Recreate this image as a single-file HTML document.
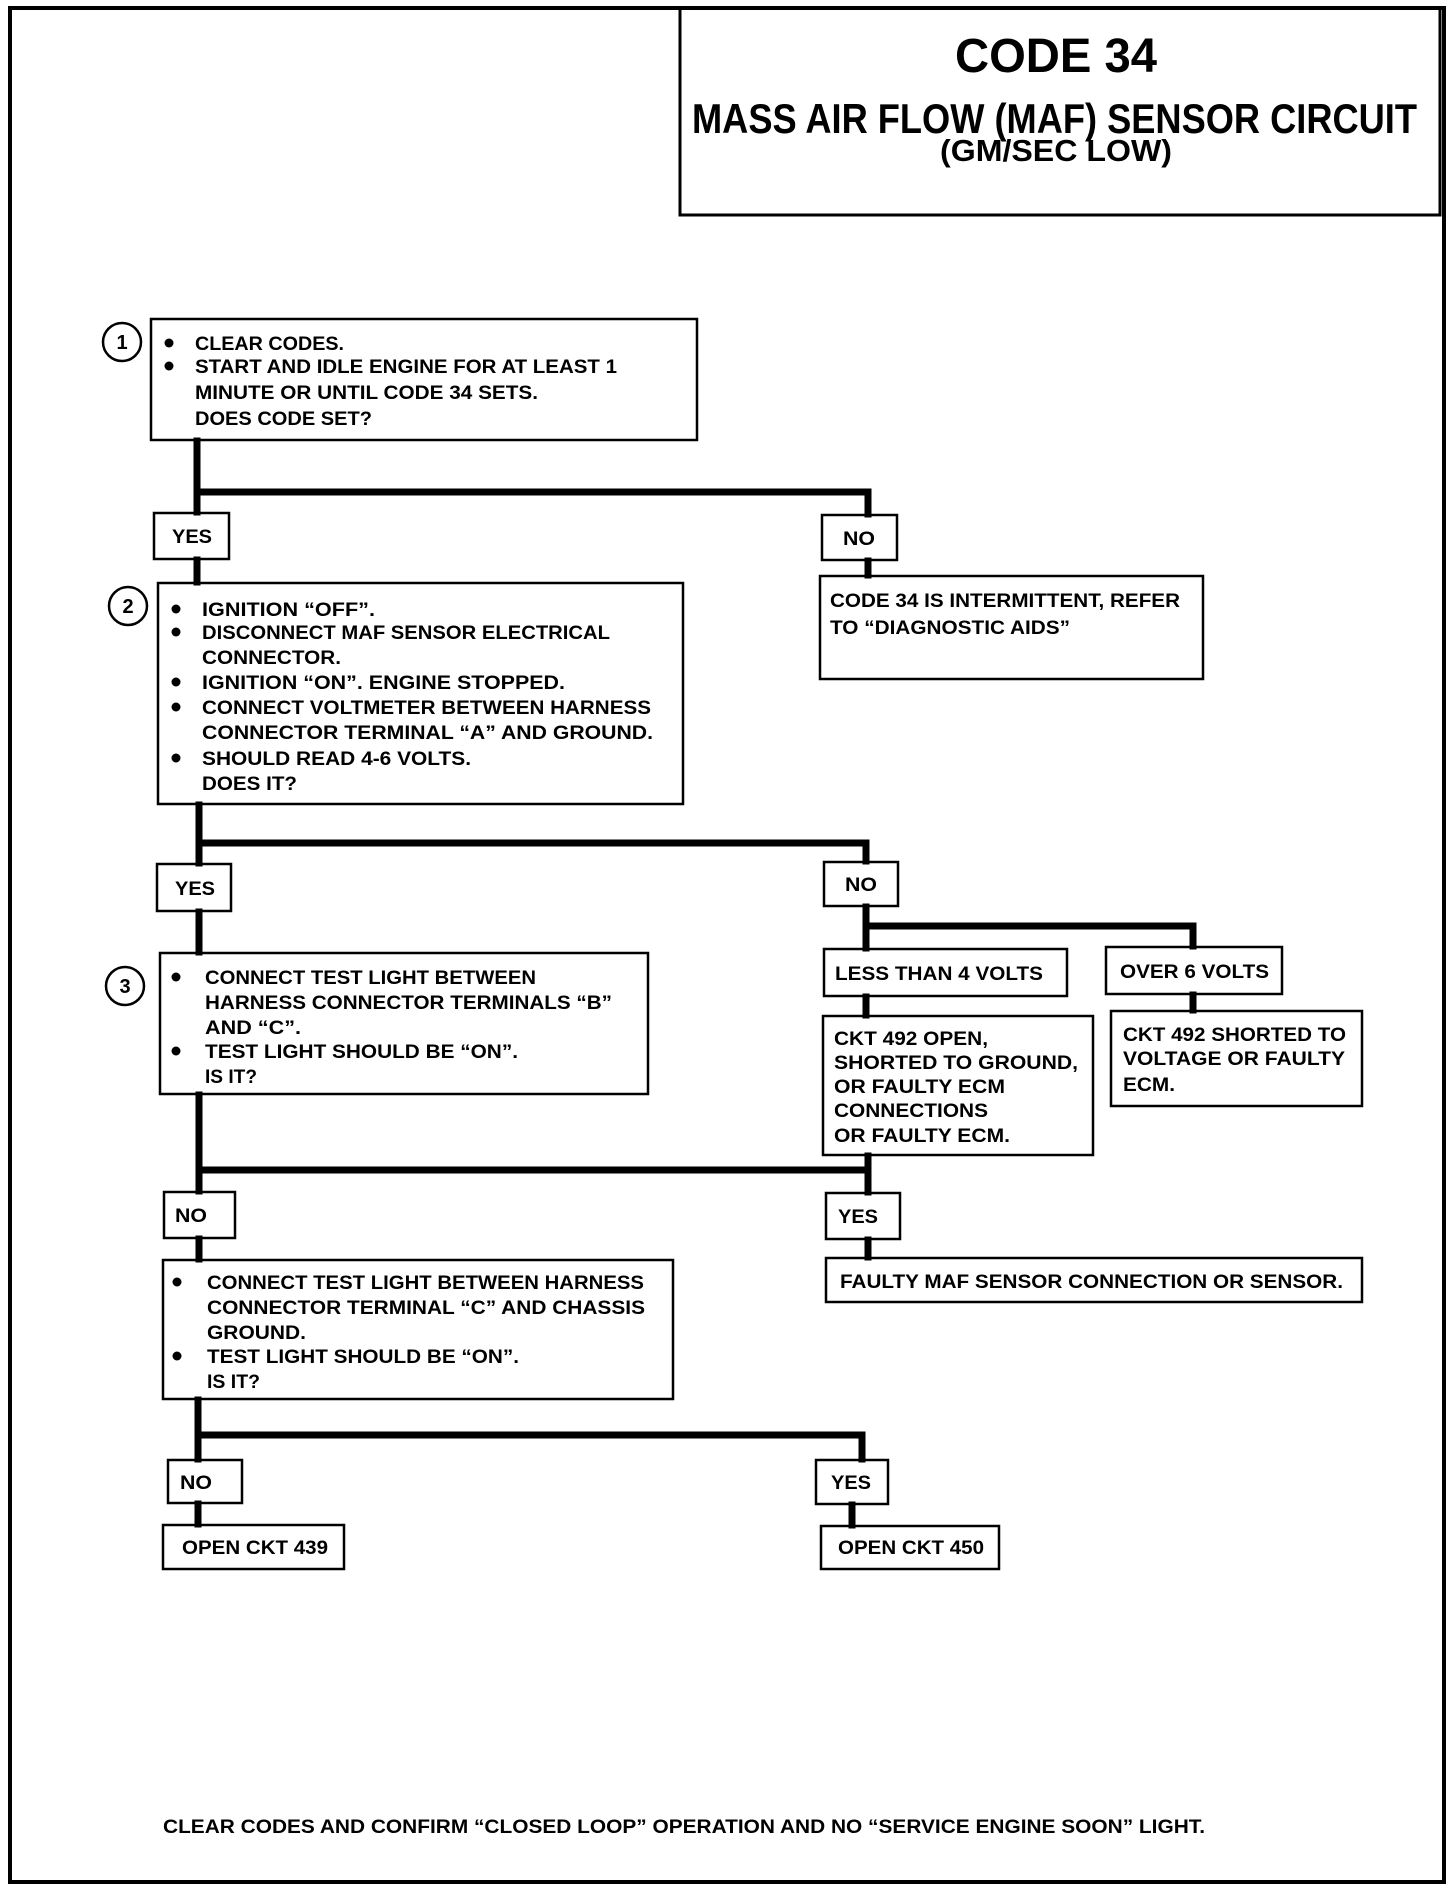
<!DOCTYPE html>
<html><head><meta charset="utf-8"><style>
html,body{margin:0;padding:0;background:#fff}
svg{display:block}
text{font-family:"Liberation Sans",sans-serif;font-weight:bold;fill:#000}
.t{font-size:19px}
</style></head><body>
<svg width="1456" height="1888" viewBox="0 0 1456 1888" xmlns="http://www.w3.org/2000/svg">
<g fill="none" stroke="#000">
<!-- outer frame -->
<rect x="10" y="8" width="1434" height="1874" stroke-width="4"/>
<!-- title box -->
<rect x="680" y="8" width="760" height="207" stroke-width="3"/>
<!-- boxes -->
<g stroke-width="2.5">
<rect x="151" y="319" width="546" height="121"/>
<rect x="158" y="583" width="525" height="221"/>
<rect x="160" y="953" width="488" height="141"/>
<rect x="163" y="1260" width="510" height="139"/>
<rect x="820" y="576" width="383" height="103"/>
<rect x="824" y="949" width="243" height="47"/>
<rect x="1106" y="947" width="176" height="47"/>
<rect x="823" y="1016" width="270" height="139"/>
<rect x="1111" y="1011" width="251" height="95"/>
<rect x="826" y="1258" width="536" height="44"/>
<rect x="163" y="1525" width="181" height="44"/>
<rect x="821" y="1526" width="178" height="43"/>
<!-- yes/no -->
<rect x="154" y="513" width="75" height="46"/>
<rect x="822" y="515" width="75" height="45"/>
<rect x="157" y="864" width="74" height="47"/>
<rect x="824" y="862" width="74" height="44"/>
<rect x="164" y="1192" width="71" height="46"/>
<rect x="826" y="1193" width="74" height="46"/>
<rect x="168" y="1460" width="74" height="43"/>
<rect x="816" y="1460" width="72" height="44"/>
<circle cx="122" cy="342" r="19"/>
<circle cx="128" cy="606" r="19"/>
<circle cx="125" cy="986" r="19"/>
</g>
<!-- connectors -->
<g stroke-width="7" stroke-linecap="square">
<path d="M197 441 V512 M197 492 H868 V514 M868 561 V575 M197 560 V582"/>
<path d="M199 805 V863 M199 843 H866 V861 M199 912 V952"/>
<path d="M866 907 V948 M866 926 H1193 V946 M866 997 V1015 M1193 995 V1010"/>
<path d="M199 1095 V1191 M199 1170 H868 V1192 M868 1156 V1170 M868 1240 V1257 M199 1239 V1259"/>
<path d="M198 1400 V1459 M198 1435 H862 V1459 M198 1504 V1524 M852 1505 V1525"/>
</g>
</g>
<!-- circle numbers -->
<g font-size="20" text-anchor="middle">
<text x="122" y="349">1</text><text x="128" y="613">2</text><text x="125" y="993">3</text>
</g>
<!-- bullets -->
<g fill="#000">
<circle cx="169" cy="343" r="4.5"/><circle cx="169" cy="366" r="4.5"/>
<circle cx="176" cy="609" r="4.5"/><circle cx="176" cy="632" r="4.5"/><circle cx="176" cy="682" r="4.5"/><circle cx="176" cy="707" r="4.5"/><circle cx="176" cy="758" r="4.5"/>
<circle cx="176" cy="977" r="4.5"/><circle cx="176" cy="1051" r="4.5"/>
<circle cx="177" cy="1282" r="4.5"/><circle cx="177" cy="1356" r="4.5"/>
</g>
<!-- title -->
<text x="955" y="72" font-size="48" textLength="202" lengthAdjust="spacingAndGlyphs">CODE 34</text>
<text x="692" y="133" font-size="42" textLength="725" lengthAdjust="spacingAndGlyphs">MASS AIR FLOW (MAF) SENSOR CIRCUIT</text>
<text x="940" y="161" font-size="31" textLength="232" lengthAdjust="spacingAndGlyphs">(GM/SEC LOW)</text>
<g class="t" lengthAdjust="spacingAndGlyphs">
<text x="195" y="350" textLength="149" lengthAdjust="spacingAndGlyphs">CLEAR CODES.</text>
<text x="195" y="373" textLength="422" lengthAdjust="spacingAndGlyphs">START AND IDLE ENGINE FOR AT LEAST 1</text>
<text x="195" y="399" textLength="343" lengthAdjust="spacingAndGlyphs">MINUTE OR UNTIL CODE 34 SETS.</text>
<text x="195" y="425" textLength="177" lengthAdjust="spacingAndGlyphs">DOES CODE SET?</text>

<text x="202" y="616" textLength="173" lengthAdjust="spacingAndGlyphs">IGNITION “OFF”.</text>
<text x="202" y="639" textLength="408" lengthAdjust="spacingAndGlyphs">DISCONNECT MAF SENSOR ELECTRICAL</text>
<text x="202" y="664" textLength="139" lengthAdjust="spacingAndGlyphs">CONNECTOR.</text>
<text x="202" y="689" textLength="363" lengthAdjust="spacingAndGlyphs">IGNITION “ON”.  ENGINE STOPPED.</text>
<text x="202" y="714" textLength="449" lengthAdjust="spacingAndGlyphs">CONNECT VOLTMETER BETWEEN HARNESS</text>
<text x="202" y="739" textLength="451" lengthAdjust="spacingAndGlyphs">CONNECTOR TERMINAL “A” AND GROUND.</text>
<text x="202" y="765" textLength="269" lengthAdjust="spacingAndGlyphs">SHOULD READ 4-6 VOLTS.</text>
<text x="202" y="790" textLength="95" lengthAdjust="spacingAndGlyphs">DOES IT?</text>

<text x="205" y="984" textLength="331" lengthAdjust="spacingAndGlyphs">CONNECT TEST LIGHT BETWEEN</text>
<text x="205" y="1009" textLength="407" lengthAdjust="spacingAndGlyphs">HARNESS CONNECTOR TERMINALS “B”</text>
<text x="205" y="1034" textLength="96" lengthAdjust="spacingAndGlyphs">AND “C”.</text>
<text x="205" y="1058" textLength="313" lengthAdjust="spacingAndGlyphs">TEST LIGHT SHOULD BE “ON”.</text>
<text x="205" y="1083" textLength="52" lengthAdjust="spacingAndGlyphs">IS IT?</text>

<text x="207" y="1289" textLength="437" lengthAdjust="spacingAndGlyphs">CONNECT TEST LIGHT BETWEEN HARNESS</text>
<text x="207" y="1314" textLength="438" lengthAdjust="spacingAndGlyphs">CONNECTOR TERMINAL “C” AND CHASSIS</text>
<text x="207" y="1339" textLength="99" lengthAdjust="spacingAndGlyphs">GROUND.</text>
<text x="207" y="1363" textLength="312" lengthAdjust="spacingAndGlyphs">TEST LIGHT SHOULD BE “ON”.</text>
<text x="207" y="1388" textLength="53" lengthAdjust="spacingAndGlyphs">IS IT?</text>

<text x="830" y="607" textLength="350" lengthAdjust="spacingAndGlyphs">CODE 34 IS INTERMITTENT, REFER</text>
<text x="830" y="634" textLength="240" lengthAdjust="spacingAndGlyphs">TO “DIAGNOSTIC AIDS”</text>

<text x="835" y="980" textLength="208" lengthAdjust="spacingAndGlyphs">LESS THAN 4 VOLTS</text>
<text x="1120" y="978" textLength="149" lengthAdjust="spacingAndGlyphs">OVER 6 VOLTS</text>

<text x="834" y="1045" textLength="154" lengthAdjust="spacingAndGlyphs">CKT 492 OPEN,</text>
<text x="834" y="1069" textLength="244" lengthAdjust="spacingAndGlyphs">SHORTED TO GROUND,</text>
<text x="834" y="1093" textLength="171" lengthAdjust="spacingAndGlyphs">OR FAULTY ECM</text>
<text x="834" y="1117" textLength="154" lengthAdjust="spacingAndGlyphs">CONNECTIONS</text>
<text x="834" y="1142" textLength="176" lengthAdjust="spacingAndGlyphs">OR FAULTY ECM.</text>

<text x="1123" y="1041" textLength="223" lengthAdjust="spacingAndGlyphs">CKT 492 SHORTED TO</text>
<text x="1123" y="1065" textLength="222" lengthAdjust="spacingAndGlyphs">VOLTAGE OR FAULTY</text>
<text x="1123" y="1091" textLength="52" lengthAdjust="spacingAndGlyphs">ECM.</text>

<text x="840" y="1288" textLength="503" lengthAdjust="spacingAndGlyphs">FAULTY MAF SENSOR CONNECTION OR SENSOR.</text>
<text x="182" y="1554" textLength="146" lengthAdjust="spacingAndGlyphs">OPEN CKT 439</text>
<text x="838" y="1554" textLength="146" lengthAdjust="spacingAndGlyphs">OPEN CKT 450</text>

<text x="172" y="543" textLength="40" lengthAdjust="spacingAndGlyphs">YES</text>
<text x="843" y="545" textLength="32" lengthAdjust="spacingAndGlyphs">NO</text>
<text x="175" y="895" textLength="40" lengthAdjust="spacingAndGlyphs">YES</text>
<text x="845" y="891" textLength="32" lengthAdjust="spacingAndGlyphs">NO</text>
<text x="175" y="1222" textLength="32" lengthAdjust="spacingAndGlyphs">NO</text>
<text x="838" y="1223" textLength="40" lengthAdjust="spacingAndGlyphs">YES</text>
<text x="180" y="1489" textLength="32" lengthAdjust="spacingAndGlyphs">NO</text>
<text x="831" y="1489" textLength="40" lengthAdjust="spacingAndGlyphs">YES</text>

<text x="163" y="1833" textLength="1042" lengthAdjust="spacingAndGlyphs">CLEAR CODES AND CONFIRM “CLOSED LOOP”  OPERATION AND NO “SERVICE ENGINE SOON” LIGHT.</text>
</g>
</svg>
</body></html>
